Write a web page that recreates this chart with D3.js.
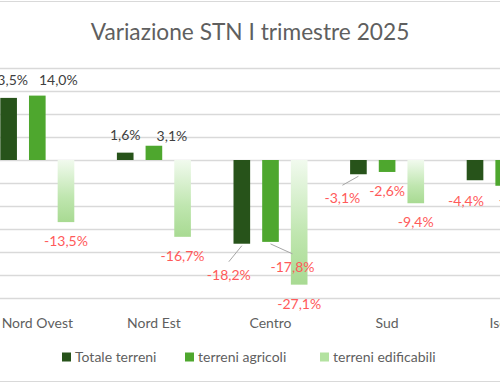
<!DOCTYPE html>
<html>
<head>
<meta charset="utf-8">
<script src="https://cdn.jsdelivr.net/npm/d3@7"></script>
<style>
  body { margin: 0; background: #fff; }
  svg { display: block; font-family: Lato, "Open Sans", sans-serif; }
</style>
</head>
<body>
<div id="chart"></div>
<script>
// regions and series
const regions = ["Nord Ovest", "Nord Est", "Centro", "Sud", "Isole"];
const seriesNames = ["Totale terreni", "terreni agricoli", "terreni edificabili"];
const totale = [13.5, 1.6, -18.2, -3.1, -4.4];
const agricoli = [14.0, 3.1, -17.8, -2.6, -5.6];
const edificabili = [-13.5, -16.7, -27.1, -9.4, -11.0];
const yTicks = [20, 15, 10, 5, 0, -5, -10, -15, -20, -25, -30];

// label nudges (dx, dy) and leader lines, as placed by hand in the original
const labelShift = {
  "Nord Ovest|1": [21, 2],
  "Nord Est|1": [18, 8],
  "Centro|0": [-13, 12, true],
  "Centro|1": [22, 6, true],
  "Sud|0": [-16, 5, true],
  "Isole|0": [-9, 2],
  "Isole|1": [13, -5],
  "Isole|2": [6, 0]
};

const width = 500, height = 383;
const colors = ["#27531a", "#4ea72e", "#b3e2a0"];

const svg = d3.select("#chart").append("svg")
  .attr("width", width)
  .attr("height", height);

const defs = svg.append("defs");
const grad = defs.append("linearGradient")
  .attr("id", "edifGrad")
  .attr("x1", 0).attr("y1", 0).attr("x2", 0).attr("y2", 1);
grad.append("stop").attr("offset", "0%").attr("stop-color", "#f1faee");
grad.append("stop").attr("offset", "60%").attr("stop-color", "#bfe6af");
grad.append("stop").attr("offset", "100%").attr("stop-color", "#a8da92");

// outer border lines of the chart area
svg.append("line").attr("x1", 0).attr("x2", width).attr("y1", 1.5).attr("y2", 1.5)
  .attr("stroke", "#d9d9d9");
svg.append("line").attr("x1", 0).attr("x2", width).attr("y1", 381.5).attr("y2", 381.5)
  .attr("stroke", "#d9d9d9");

svg.append("text")
  .attr("x", 250)
  .attr("y", 40)
  .attr("text-anchor", "middle")
  .attr("font-size", "22.7px")
  .attr("fill", "#5f5f5f")
  .text("Variazione STN I trimestre 2025");

// the plot is wider than the window, so both ends get cut off
const x = d3.scaleBand()
  .domain(regions)
  .range([-21, 562]);

const xs = d3.scaleBand()
  .domain(d3.range(3))
  .range([x.bandwidth() / 2 - 37, x.bandwidth() / 2 + 37])
  .paddingInner(0.42);

const y = d3.scaleLinear()
  .domain([-30, 20])
  .range([298, 68]);

svg.append("g")
  .selectAll("line")
  .data(yTicks)
  .join("line")
  .attr("x1", 0)
  .attr("x2", width)
  .attr("y1", d => Math.round(y(d)) + 0.5)
  .attr("y2", d => Math.round(y(d)) + 0.5)
  .attr("stroke", "#d9d9d9")
  .attr("stroke-width", 1.3);

const rows = [];
regions.forEach((r, i) => {
  [totale, agricoli, edificabili].forEach((s, k) => {
    rows.push({ region: r, k: k, value: s[i] });
  });
});

svg.append("g")
  .selectAll("rect")
  .data(rows)
  .join("rect")
  .attr("x", d => x(d.region) + xs(d.k))
  .attr("width", xs.bandwidth())
  .attr("y", d => y(Math.max(0, d.value)))
  .attr("height", d => Math.abs(y(d.value) - y(0)))
  .attr("fill", d => d.k === 2 ? "url(#edifGrad)" : colors[d.k]);

const fmt = v => d3.format(".1f")(v).replace(".", ",").replace("−", "-") + "%";

const labels = svg.append("g").attr("font-size", "14px");
rows.forEach(d => {
  const cx = x(d.region) + xs(d.k) + xs.bandwidth() / 2;
  const end = y(d.value);
  const s = labelShift[d.region + "|" + d.k] || [0, 0];
  const lx = cx + s[0];
  const ly = (d.value >= 0 ? end - 18 : end + 19) + s[1];
  if (s[2]) {
    labels.append("line")
      .attr("x1", lx).attr("y1", ly - 13)
      .attr("x2", cx).attr("y2", end + 2)
      .attr("stroke", "#a6a6a6")
      .attr("stroke-width", 1);
  }
  labels.append("text")
    .attr("x", lx)
    .attr("y", ly)
    .attr("dy", "0.35em")
    .attr("text-anchor", "middle")
    .attr("fill", d.value >= 0 ? "#404040" : "#ff5a5a")
    .text(fmt(d.value));
});

const xAxis = svg.append("g")
  .attr("transform", "translate(0,308)")
  .call(d3.axisBottom(x).tickSize(0).tickPadding(10));
xAxis.select(".domain").remove();
xAxis.selectAll("text")
  .attr("font-family", "Lato, 'Open Sans', sans-serif")
  .attr("font-size", "14px")
  .attr("fill", "#5f5f5f");

const legendX = [62, 185, 320];
const legend = svg.append("g")
  .selectAll("g")
  .data(seriesNames)
  .join("g")
  .attr("transform", (d, i) => `translate(${legendX[i]},357)`);
legend.append("rect")
  .attr("x", 0).attr("y", -4.5)
  .attr("width", 9).attr("height", 9)
  .attr("fill", (d, i) => colors[i]);
legend.append("text")
  .attr("x", 13)
  .attr("dy", "0.35em")
  .attr("font-size", "14px")
  .attr("fill", "#5f5f5f")
  .text(d => d);
</script>
</body>
</html>
